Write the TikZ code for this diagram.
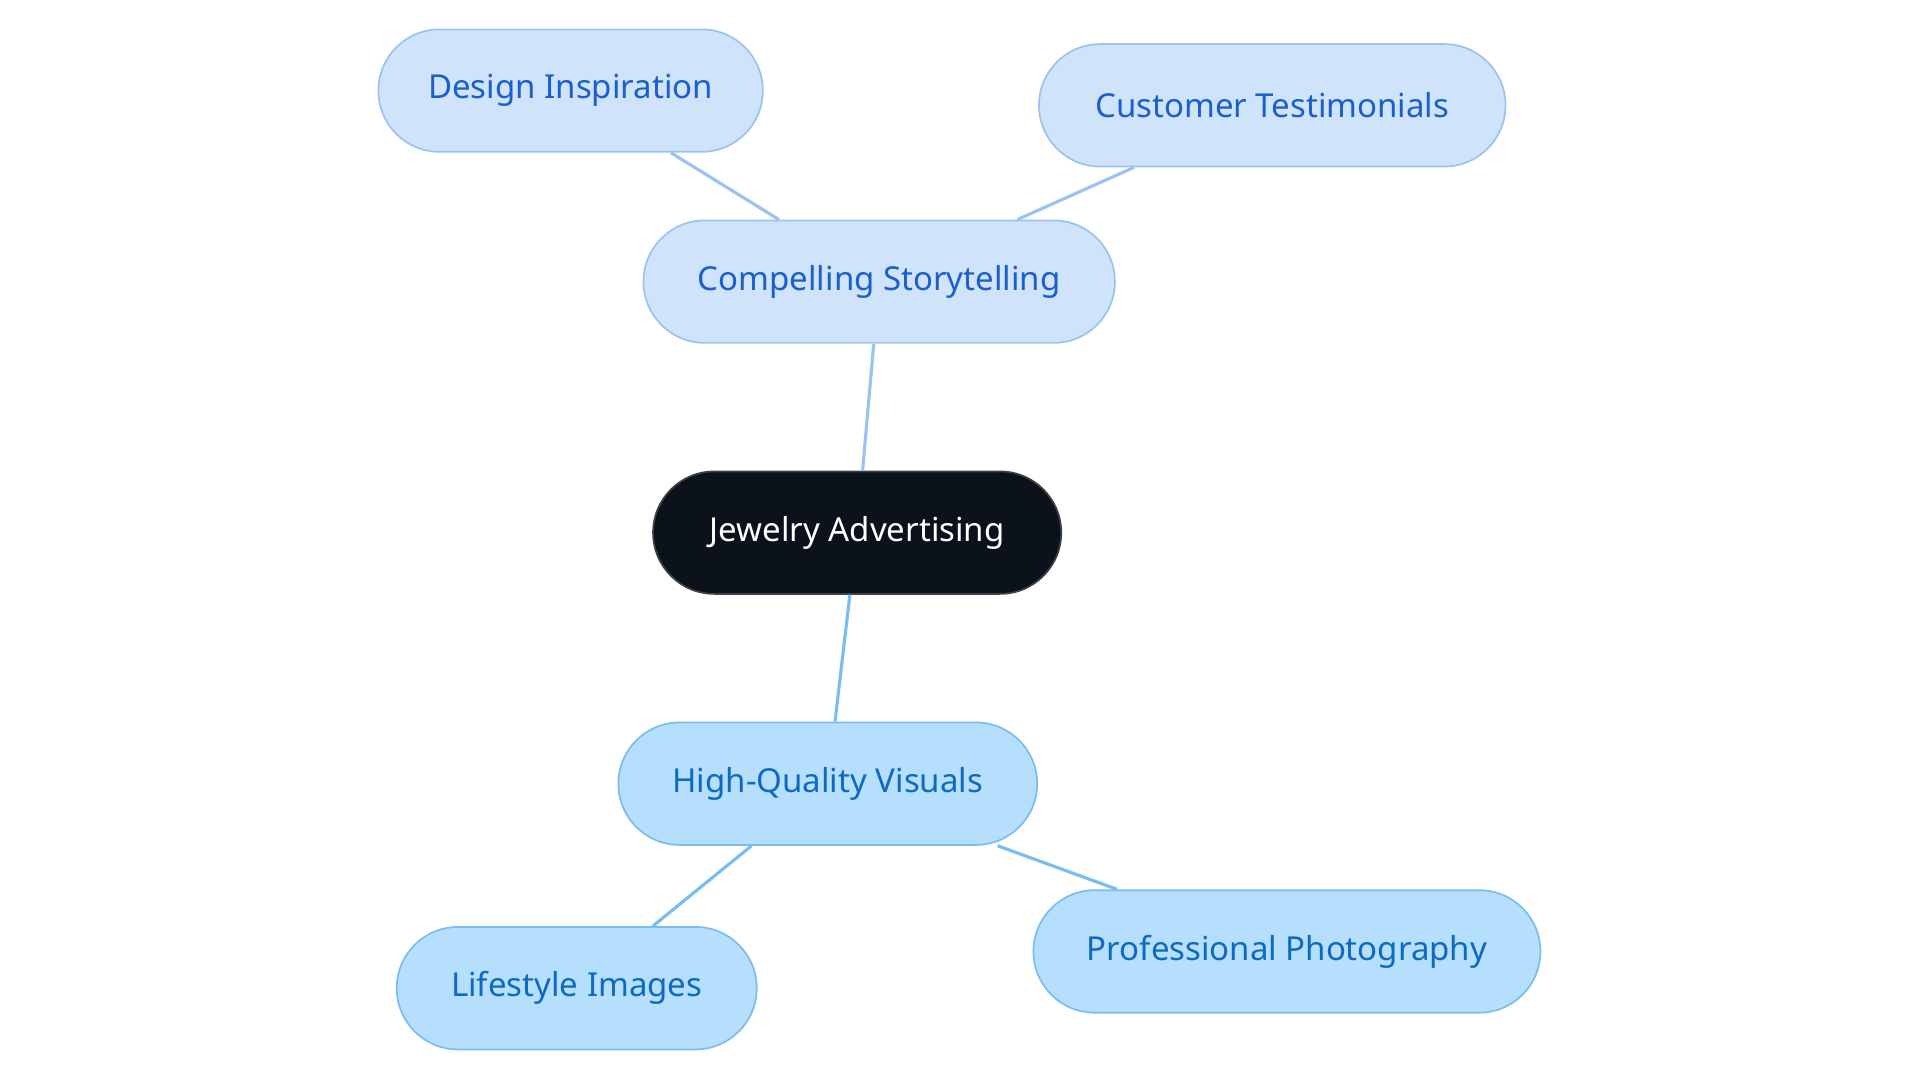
\documentclass[tikz,border=0pt]{standalone}
\usepackage{fontspec}
\setmainfont{Noto Sans}
\definecolor{rootfill}{HTML}{0C121B}
\definecolor{storyfill}{HTML}{CFE3FB}
\definecolor{storyline}{HTML}{9CC3F0}
\definecolor{storytext}{HTML}{1A5FCC}
\definecolor{visfill}{HTML}{B5DFFD}
\definecolor{visline}{HTML}{7BBDEE}
\definecolor{vistext}{HTML}{0D6AC0}
\begin{document}
\begin{tikzpicture}[
            x=0.03cm, y=-0.03cm,
            topic/.style={draw, rounded corners=1.5cm, line width=1.2pt, minimum height=3cm, font=\fontsize{23}{26}\selectfont, inner xsep=0pt},
            root topic/.style={topic, fill=rootfill, draw=rootfill!80!white, text=white},
            story topic/.style={topic, fill=storyfill, draw=storyline, text=storytext},
            visual topic/.style={topic, fill=visfill, draw=visline, text=vistext},
            story link/.style={draw=storyline, line width=2.2pt},
            visual link/.style={draw=visline, line width=2.2pt}
        ]
        \useasboundingbox (0,0) rectangle (1568,884);

        % Root
        \node[root topic, minimum width=10cm] (jewelry) at (700,435) {Jewelry Advertising};

        % Storytelling branch
        \node[story topic, minimum width=11.55cm] (story) at (718,230) {Compelling Storytelling};
        \node[story topic, minimum width=9.42cm] (design) at (466,74) {Design Inspiration};
        \node[story topic, minimum width=11.43cm] (customer) at (1039,86) {Customer Testimonials};

        % Visuals branch
        \node[visual topic, minimum width=10.26cm] (visuals) at (676,640) {High-Quality Visuals};
        \node[visual topic, minimum width=8.82cm] (lifestyle) at (471,807) {Lifestyle Images};
        \node[visual topic, minimum width=12.42cm] (photo) at (1051,777) {Professional Photography};

        % Links
        \path[story link] (jewelry) -- (story);
        \path[story link] (story) -- (design);
        \path[story link] (story) -- (customer);
        \path[visual link] (jewelry) -- (visuals);
        \path[visual link] (visuals) -- (lifestyle);
        \path[visual link] (visuals) -- (photo);

\end{tikzpicture}
\end{document}
